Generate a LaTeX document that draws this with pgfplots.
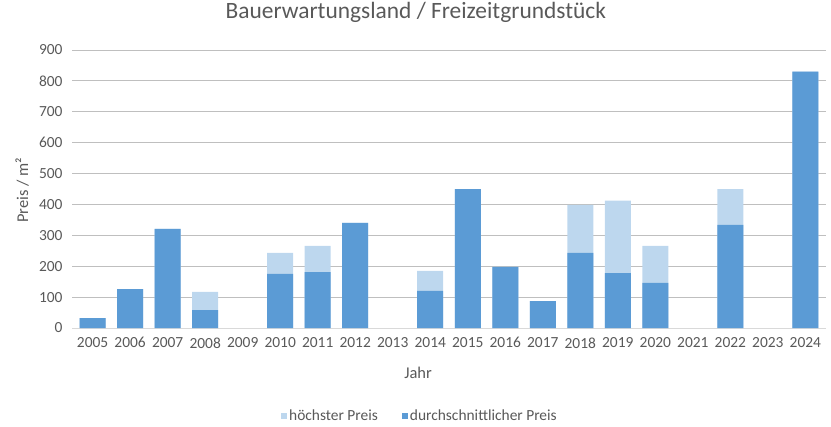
\documentclass[border=0pt]{standalone}
\usepackage{pgfplots}
\pgfplotsset{compat=1.18}
\usepackage{fontspec}
\setmainfont{Carlito}
\definecolor{darkb}{HTML}{5B9BD5}
\definecolor{lightb}{HTML}{BDD7EE}
\definecolor{txt}{HTML}{595959}
\definecolor{grid}{HTML}{D9D9D9}
\begin{document}
\begin{tikzpicture}
\path[use as bounding box] (0,0) rectangle (831bp,-427bp);
\begin{axis}[
  at={(72bp,-328bp)}, anchor=south west,
  scale only axis, width=754bp, height=278bp,
  xmin=-0.55, xmax=19.55, ymin=0, ymax=900,
  ytick={0,100,...,900},
  xtick={0,...,19},
  xticklabels={2005,2006,2007,2008,2009,2010,2011,2012,2013,2014,2015,2016,2017,2018,2019,2020,2021,2022,2023,2024},
  ybar, bar width=26bp,
  axis x line*=bottom, axis y line*=left,
  x axis line style={grid, line width=0.8pt, -},
  y axis line style={draw=none},
  ymajorgrids=true, xmajorgrids=false,
  grid style={grid, line width=0.8pt},
  major tick length=0pt,
  /pgf/number format/assume math mode=true,
  tick label style={font=\fontsize{15.5}{17}\selectfont, text=txt},
  yticklabel style={xshift=-6bp},
  xticklabel style={yshift=-6bp},
  xlabel={Jahr}, ylabel={Preis / m²},
  label style={font=\fontsize{16.5}{18}\selectfont, text=txt},
  xlabel style={at={(0.459,0)}, yshift=-45bp, anchor=center},
  ylabel style={at={(-0.0663,0.496)}, anchor=center},
  title={Bauerwartungsland / Freizeitgrundstück},
  title style={font=\fontsize{23.5}{26}\selectfont, text=txt, at={(0.456,1)}, anchor=center, yshift=32bp},
  legend style={draw=none, at={(0.4615,-0.3165)}, anchor=center,
    legend columns=2, font=\fontsize{15.5}{17}\selectfont, text=txt,
    /tikz/every even column/.append style={column sep=22bp}},
  legend image code/.code={\fill[#1] (0bp,-3bp) rectangle (6bp,3bp);},
]
\addplot[fill=lightb, draw=none, bar shift=0pt] coordinates {
 (0,32) (1,126) (2,321) (3,117) (5,243) (6,266) (7,340) (9,185) (10,450)
 (11,198) (12,87) (13,399) (14,412) (15,266) (17,450) (19,830)};
\addplot[fill=darkb, draw=none, bar shift=0pt] coordinates {
 (0,32) (1,126) (2,321) (3,58) (5,175) (6,181) (7,340) (9,120) (10,450)
 (11,198) (12,87) (13,243) (14,178) (15,146) (17,334) (19,830)};
\legend{höchster Preis, durchschnittlicher Preis}
\end{axis}
\end{tikzpicture}
\end{document}
